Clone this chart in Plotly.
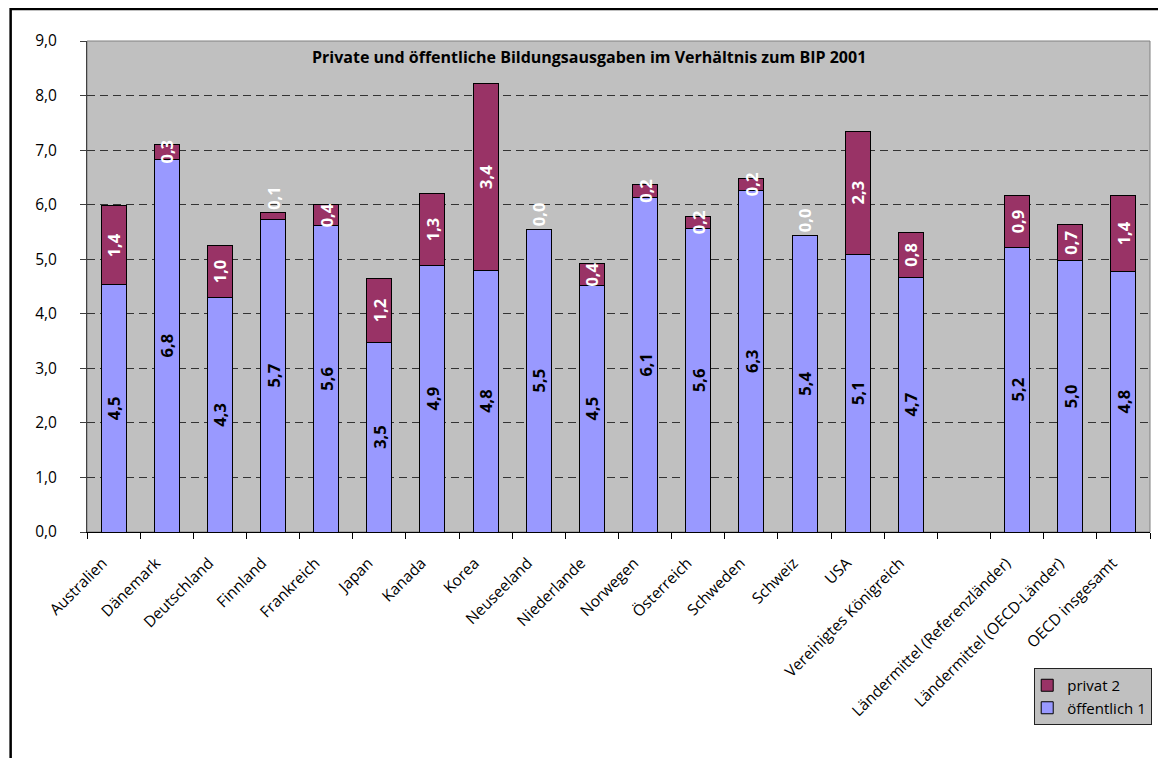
import plotly.graph_objects as go

categories = ["Australien", "Dänemark", "Deutschland", "Finnland", "Frankreich", "Japan",
              "Kanada", "Korea", "Neuseeland", "Niederlande", "Norwegen", "Österreich",
              "Schweden", "Schweiz", "USA", "Vereinigtes Königreich", " ",
              "Ländermittel (Referenzländer)", "Ländermittel (OECD-Länder)", "OECD insgesamt"]

oeffentlich = [4.53, 6.83, 4.29, 5.73, 5.61, 3.48, 4.89, 4.80, 5.55, 4.52, 6.13, 5.56,
               6.26, 5.44, 5.09, 4.67, None, 5.22, 4.97, 4.78]
privat = [1.45, 0.28, 0.97, 0.12, 0.39, 1.16, 1.31, 3.42, 0.0, 0.40, 0.24, 0.23,
          0.22, 0.0, 2.26, 0.82, None, 0.94, 0.66, 1.39]

title_text = "Private und öffentliche Bildungsausgaben im Verhältnis zum BIP 2001"

FONT = "Open Sans"

# page body has an 8px margin; work in screen pixels
OFF = 8
W, H = 1150, 750
L, R, T, B = 87, 1152, 41, 532          # plot area in screen pixels
def px(x):
    return (x - L) / (R - L)
def py(y):
    return (B - y) / (B - T)

priv_pos = ["outside" if (v is not None and v < 0.15) else "inside" for v in privat]

fig = go.Figure()
fig.add_trace(go.Bar(
    x=categories, y=oeffentlich, name="öffentlich 1",
    marker=dict(color="#9999FF", line=dict(color="black", width=1)),
    texttemplate="%{y:.1f}", textposition="inside", insidetextanchor="middle",
    textangle=-90, constraintext="none",
    textfont=dict(family=FONT, size=16.5, color="black", weight="bold"),
    hoverinfo="skip",
))
fig.add_trace(go.Bar(
    x=categories, y=privat, name="privat 2",
    marker=dict(color="#993366", line=dict(color="black", width=1)),
    texttemplate="%{y:.1f}", textposition=priv_pos, insidetextanchor="middle",
    textangle=-90, constraintext="none",
    textfont=dict(family=FONT, size=16.5, color="white", weight="bold"),
    hoverinfo="skip",
))

fig.update_layout(
    width=W, height=H,
    margin=dict(l=L - OFF, r=W - (R - OFF), t=T - OFF, b=H - (B - OFF), pad=0),
    barmode="stack", bargap=0.53,
    separators=",.",
    paper_bgcolor="white", plot_bgcolor="#C0C0C0",
    font=dict(family=FONT, size=15.5, color="black"),
    showlegend=True,
    legend=dict(x=px(1036), y=py(668), xanchor="left", yanchor="top",
                bgcolor="#C0C0C0", bordercolor="#222222", borderwidth=1,
                traceorder="reversed", font=dict(family=FONT, size=15, color="black"),
                itemwidth=30, tracegroupgap=0, indentation=-8),
    xaxis=dict(type="category", tickangle=-45, tickson="boundaries",
               ticks="outside", ticklen=6, tickcolor="black",
               showline=True, linecolor="black", linewidth=1,
               showgrid=False, ticklabelstandoff=15, ticklabelshift=-11,
               tickfont=dict(family=FONT, size=15.5, color="black"),
               fixedrange=True),
    yaxis=dict(range=[0, 9], dtick=1, tick0=0, tickformat=".1f",
               ticks="outside", ticklen=6, tickcolor="#404040",
               showline=True, linecolor="#404040", linewidth=1,
               showgrid=True, gridcolor="#333333", gridwidth=1, griddash="8px,5px",
               zeroline=False, ticklabelstandoff=20,
               tickfont=dict(family=FONT, size=15.5, color="black"),
               fixedrange=True),
    annotations=[dict(text="<b>" + title_text + "</b>", xref="paper", yref="paper",
                      x=px(590), y=py(57), xanchor="center", yanchor="middle",
                      showarrow=False, font=dict(family=FONT, size=16, color="black"))],
    shapes=[
        dict(type="rect", xref="paper", yref="paper", x0=0, x1=1, y0=0, y1=1,
             line=dict(color="#808080", width=1), layer="below"),
        dict(type="rect", xref="paper", yref="paper",
             x0=px(10.5), x1=px(1220), y0=py(820), y1=py(9),
             line=dict(color="black", width=2.5), layer="above"),
    ],
)

fig.write_html("out.html")
